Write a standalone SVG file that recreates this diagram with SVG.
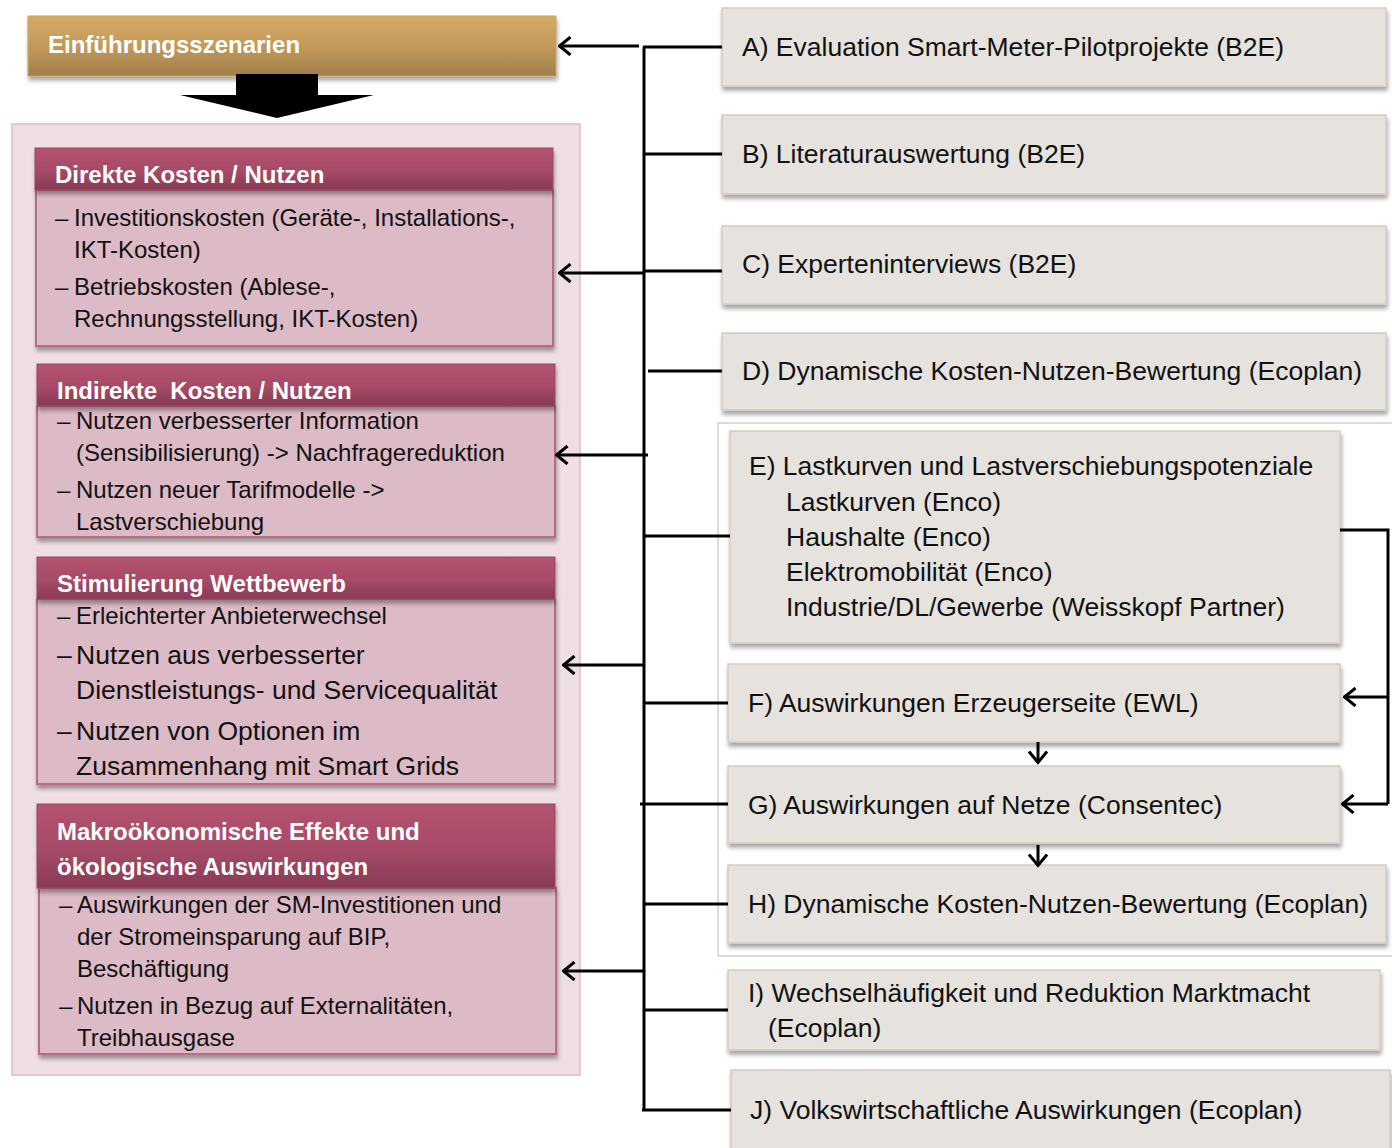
<svg xmlns="http://www.w3.org/2000/svg" width="1392" height="1148" viewBox="0 0 1392 1148">
<defs>
<linearGradient id="gold" x1="0" y1="0" x2="0" y2="1"><stop offset="0" stop-color="#d5aa65"/><stop offset="0.5" stop-color="#c29a5a"/><stop offset="1" stop-color="#a07e4a"/></linearGradient>
<linearGradient id="rose" x1="0" y1="0" x2="0" y2="1"><stop offset="0" stop-color="#b3536f"/><stop offset="0.55" stop-color="#a64b67"/><stop offset="1" stop-color="#883955"/></linearGradient>
<filter id="sh" x="-5%" y="-10%" width="110%" height="130%"><feDropShadow dx="1" dy="4" stdDeviation="2" flood-color="#000" flood-opacity="0.35"/></filter>
<marker id="ah" viewBox="0 0 14 20" refX="12.5" refY="10" markerWidth="14" markerHeight="20" markerUnits="userSpaceOnUse" orient="auto-start-reverse"><path d="M1,1 L12,10 L1,19" fill="none" stroke="#000" stroke-width="3"/></marker>
</defs>
<style>
.hd{font-family:"Liberation Sans",Arial,sans-serif;font-weight:bold;font-size:24px;fill:#fff}
.bt{font-family:"Liberation Sans",Arial,sans-serif;font-size:24px;fill:#111}
.bl{font-family:"Liberation Sans",Arial,sans-serif;font-size:26.5px;fill:#111}
.rt{font-family:"Liberation Sans",Arial,sans-serif;font-size:26.5px;fill:#111}
.rh{fill:url(#rose);stroke:#9c4663;stroke-width:1}
.rb{fill:#dcbac6;stroke:#b86a86;stroke-width:2}
.gb{fill:#e6e3df;stroke:#d4ccc4;stroke-width:1.5}
.ln{fill:none;stroke:#000;stroke-width:3}
</style>

<g id="header">
<rect x="28" y="16" width="528" height="60" fill="url(#gold)" stroke="#c9a260" filter="url(#sh)"/>
<text class="hd" x="48" y="53">Einführungsszenarien</text>
</g>

<g id="big-arrow">
<path d="M236,74 H318 V95 H374 L277,118 L180,95 H236 Z" fill="#000"/>
</g>

<g id="container">
<rect x="12" y="124" width="568" height="951" fill="#efdfe3" stroke="#e6c6d0" stroke-width="2"/>
</g>

<g id="direkte">
<rect class="rb" x="36" y="190" width="517" height="156" filter="url(#sh)"/>
<rect class="rh" x="35" y="148" width="518" height="42" filter="url(#sh)"/>
<text class="hd" x="55" y="183">Direkte Kosten / Nutzen</text>
<text class="bt" y="226"><tspan x="55">–</tspan><tspan x="74">Investitionskosten (Geräte-, Installations-,</tspan></text>
<text class="bt" x="74" y="258">IKT-Kosten)</text>
<text class="bt" y="295"><tspan x="55">–</tspan><tspan x="74">Betriebskosten (Ablese-,</tspan></text>
<text class="bt" x="74" y="327">Rechnungsstellung, IKT-Kosten)</text>
</g>

<g id="indirekte">
<rect class="rb" x="37" y="406" width="518" height="131" filter="url(#sh)"/>
<rect class="rh" x="37" y="364" width="518" height="42" filter="url(#sh)"/>
<text class="hd" x="57" y="399" xml:space="preserve">Indirekte  Kosten / Nutzen</text>
<text class="bt" y="429"><tspan x="57">–</tspan><tspan x="76">Nutzen verbesserter Information</tspan></text>
<text class="bt" x="76" y="461">(Sensibilisierung) -&gt; Nachfragereduktion</text>
<text class="bt" y="498"><tspan x="57">–</tspan><tspan x="76">Nutzen neuer Tarifmodelle -&gt;</tspan></text>
<text class="bt" x="76" y="530">Lastverschiebung</text>
</g>

<g id="wettbewerb">
<rect class="rb" x="37" y="599" width="518" height="185" filter="url(#sh)"/>
<rect class="rh" x="37" y="557" width="518" height="42" filter="url(#sh)"/>
<text class="hd" x="57" y="592">Stimulierung Wettbewerb</text>
<text class="bt" y="624"><tspan x="57">–</tspan><tspan x="76">Erleichterter Anbieterwechsel</tspan></text>
<text class="bl" y="664"><tspan x="57">–</tspan><tspan x="76">Nutzen aus verbesserter</tspan></text>
<text class="bl" x="76" y="699">Dienstleistungs- und Servicequalität</text>
<text class="bl" y="740"><tspan x="57">–</tspan><tspan x="76">Nutzen von Optionen im</tspan></text>
<text class="bl" x="76" y="775">Zusammenhang mit Smart Grids</text>
</g>

<g id="makro">
<rect class="rb" x="39" y="888" width="517" height="166" filter="url(#sh)"/>
<rect class="rh" x="37" y="804" width="518" height="84" filter="url(#sh)"/>
<text class="hd" x="57" y="840">Makroökonomische Effekte und</text>
<text class="hd" x="57" y="875">ökologische Auswirkungen</text>
<text class="bt" y="913"><tspan x="59">–</tspan><tspan x="77">Auswirkungen der SM-Investitionen und</tspan></text>
<text class="bt" x="77" y="945">der Stromeinsparung auf BIP,</text>
<text class="bt" x="77" y="977">Beschäftigung</text>
<text class="bt" y="1014"><tspan x="59">–</tspan><tspan x="77">Nutzen in Bezug auf Externalitäten,</tspan></text>
<text class="bt" x="77" y="1046">Treibhausgase</text>
</g>

<g id="group-frame">
<rect x="718" y="423" width="680" height="533" fill="none" stroke="#cfcfcf" stroke-width="1.5"/>
</g>

<g id="A"><rect class="gb" x="722" y="8" width="664" height="78" filter="url(#sh)"/><text class="rt" x="742" y="56">A) Evaluation Smart-Meter-Pilotprojekte (B2E)</text></g>
<g id="B"><rect class="gb" x="722" y="115" width="664" height="79" filter="url(#sh)"/><text class="rt" x="742" y="163">B) Literaturauswertung (B2E)</text></g>
<g id="C"><rect class="gb" x="722" y="226" width="664" height="78" filter="url(#sh)"/><text class="rt" x="742" y="273">C) Experteninterviews (B2E)</text></g>
<g id="D"><rect class="gb" x="722" y="333" width="664" height="77" filter="url(#sh)"/><text class="rt" x="742" y="380">D) Dynamische Kosten-Nutzen-Bewertung (Ecoplan)</text></g>
<g id="E"><rect class="gb" x="730" y="431" width="610" height="212" filter="url(#sh)"/>
<text class="rt" x="749" y="475">E) Lastkurven und Lastverschiebungspotenziale</text>
<text class="rt" x="786" y="511">Lastkurven (Enco)</text>
<text class="rt" x="786" y="546">Haushalte (Enco)</text>
<text class="rt" x="786" y="581">Elektromobilität (Enco)</text>
<text class="rt" x="786" y="616">Industrie/DL/Gewerbe (Weisskopf Partner)</text></g>
<g id="F"><rect class="gb" x="728" y="664" width="612" height="78" filter="url(#sh)"/><text class="rt" x="748" y="712">F) Auswirkungen Erzeugerseite (EWL)</text></g>
<g id="G"><rect class="gb" x="728" y="766" width="612" height="77" filter="url(#sh)"/><text class="rt" x="748" y="814">G) Auswirkungen auf Netze (Consentec)</text></g>
<g id="H"><rect class="gb" x="728" y="865" width="658" height="78" filter="url(#sh)"/><text class="rt" x="748" y="913">H) Dynamische Kosten-Nutzen-Bewertung (Ecoplan)</text></g>
<g id="I"><rect class="gb" x="728" y="970" width="652" height="80" filter="url(#sh)"/><text class="rt" x="748" y="1002">I) Wechselhäufigkeit und Reduktion Marktmacht</text><text class="rt" x="768" y="1037">(Ecoplan)</text></g>
<g id="J"><rect class="gb" x="731" y="1070" width="659" height="80" filter="url(#sh)"/><text class="rt" x="750" y="1119">J) Volkswirtschaftliche Auswirkungen (Ecoplan)</text></g>

<g id="connectors">
<path class="ln" d="M644,47 V1110"/>
<path class="ln" d="M639,46 H559" marker-end="url(#ah)"/>
<path class="ln" d="M644,273 H559" marker-end="url(#ah)"/>
<path class="ln" d="M648,455 H556" marker-end="url(#ah)"/>
<path class="ln" d="M644,665 H563" marker-end="url(#ah)"/>
<path class="ln" d="M644,971 H563" marker-end="url(#ah)"/>
<path class="ln" d="M643,47 H722"/>
<path class="ln" d="M644,154 H722"/>
<path class="ln" d="M644,271 H722"/>
<path class="ln" d="M648,371 H722"/>
<path class="ln" d="M644,536 H730"/>
<path class="ln" d="M644,703 H728"/>
<path class="ln" d="M640,804 H728"/>
<path class="ln" d="M644,904 H728"/>
<path class="ln" d="M644,1010 H728"/>
<path class="ln" d="M642,1110 H731"/>
<path class="ln" d="M1340,530 H1388 V804"/>
<path class="ln" d="M1388,697 H1344" marker-end="url(#ah)"/>
<path class="ln" d="M1388,804 H1342" marker-end="url(#ah)"/>
<path class="ln" d="M1038,742 V763" marker-end="url(#ah)"/>
<path class="ln" d="M1038,845 V866" marker-end="url(#ah)"/>
</g>
</svg>
